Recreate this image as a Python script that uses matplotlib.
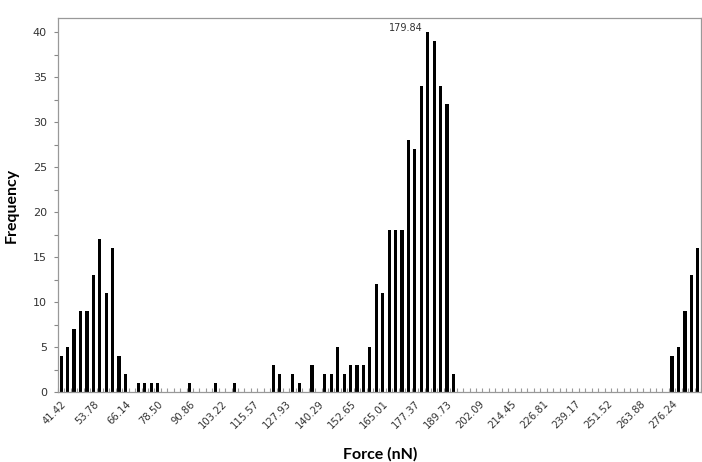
import numpy as np
import matplotlib

matplotlib.use('agg')
import matplotlib.pyplot as plt

# counts per bin (100 bins, width ~2.472 nN, starting at 41.42)
counts = [4, 5, 7, 9, 9, 13, 17, 11, 16, 4,
          2, 0, 1, 1, 1, 1, 0, 0, 0, 0,
          1, 0, 0, 0, 1, 0, 0, 1, 0, 0,
          0, 0, 0, 3, 2, 0, 2, 1, 0, 3,
          0, 2, 2, 5, 2, 3, 3, 3, 5, 12,
          11, 18, 18, 18, 28, 27, 34, 40, 39, 34,
          32, 2, 0, 0, 0, 0, 0, 0, 0, 0,
          0, 0, 0, 0, 0, 0, 0, 0, 0, 0,
          0, 0, 0, 0, 0, 0, 0, 0, 0, 0,
          0, 0, 0, 0, 0, 4, 5, 9, 13, 16]

# category labels shown every 5th bin
tick_labels = ['41.42', '53.78', '66.14', '78.50', '90.86', '103.22', '115.57',
               '127.93', '140.29', '152.65', '165.01', '177.37', '189.73',
               '202.09', '214.45', '226.81', '239.17', '251.52', '263.88',
               '276.24']
label_step = 5
peak_label = '179.84'


def draw_hist(path):
    fig = plt.figure(figsize=(7.02, 4.62), dpi=100)
    ax = fig.add_axes([58 / 702, 1 - 392 / 462, 643 / 702, 374 / 462])

    x = np.arange(len(counts))
    ax.bar(x, counts, width=0.5, color='black', linewidth=0)

    ax.set_xlim(-0.5, len(counts) - 0.5)
    ax.set_ylim(0, 41.6)

    ax.set_xticks(x[::label_step])
    ax.set_xticklabels(tick_labels, rotation=45, ha='right',
                       rotation_mode='anchor', fontsize=7.2, color='#333333')
    ax.set_xticks(np.arange(-0.5, len(counts), 1), minor=True)
    ax.tick_params(axis='x', which='major', length=0, pad=5)
    ax.tick_params(axis='x', which='minor', direction='in', length=3,
                   color='#999999', width=0.8)

    ax.set_yticks(np.arange(0, 41, 5))
    ax.set_yticks(np.arange(0, 41, 2.5), minor=True)
    ax.tick_params(axis='y', which='both', direction='out', length=3,
                   color='#888888', width=0.8, labelsize=8,
                   labelcolor='#333333', pad=5)

    for side in ['left', 'top', 'bottom', 'right']:
        ax.spines[side].set_color('#999999')
        ax.spines[side].set_linewidth(0.9)

    peak = int(np.argmax(counts))
    ax.text(peak - 0.8, counts[peak] + 0.5, peak_label, ha='right',
            va='center', fontsize=7, color='#333333')

    ax.set_xlabel('Force (nN)', fontsize=11.5, fontweight='bold', family='Lato')
    ax.xaxis.set_label_coords((380 - 58) / 643, (392 - 447) / 374)
    ax.set_ylabel('Frequency', fontsize=11.5, fontweight='bold', family='Lato')
    ax.yaxis.set_label_coords((19 - 58) / 643, 0.5)

    fig.savefig(path, dpi=100)
    plt.close(fig)


draw_hist('out.png')
